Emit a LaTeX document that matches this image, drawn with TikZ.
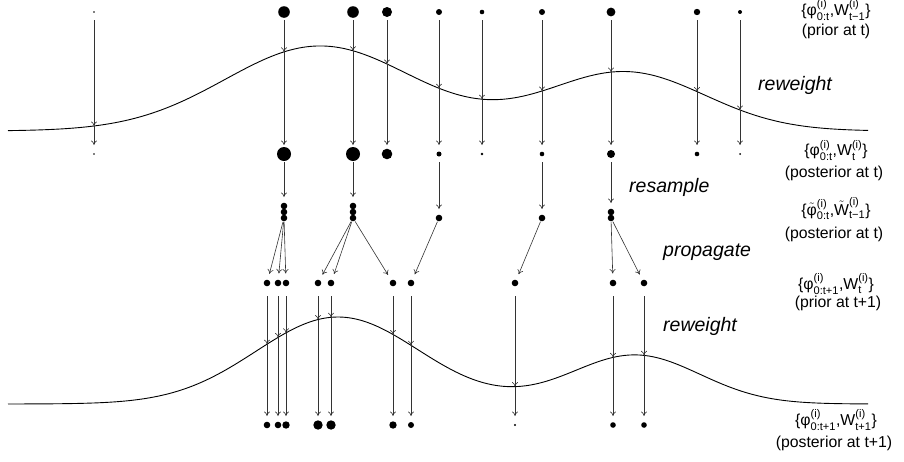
\documentclass[tikz,border=0pt]{standalone}
\usepackage{fontspec}
\usepackage{amsmath}
\setmainfont{Liberation Sans}
\usetikzlibrary{arrows.meta}

\begin{document}
\begin{tikzpicture}[x=1pt,y=-1pt,
  pt/.style={circle,fill=black,inner sep=0pt,minimum size=#1},
  link/.style={draw=black!80,line width=0.6pt,-{To[length=4.5pt,width=6pt]}},
  curve/.style={draw=black,line width=0.9pt},
  lbl/.style={font=\fontsize{15.8}{18}\selectfont,inner sep=0pt},
  act/.style={font=\fontsize{19.5}{22}\selectfont\itshape,inner sep=0pt,anchor=west},
  declare function={
    lkA(\x)=131-85*exp(-0.5*((\x-320)/95)^2)-59*exp(-0.5*((\x-625)/80)^2);
    lkB(\x)=404-87*exp(-0.5*((\x-338)/82)^2)-49*exp(-0.5*((\x-635)/65)^2);
  }]
\useasboundingbox (0,0) rectangle (904,461);

% likelihood curves
\draw[curve] plot[domain=8:868,samples=220,smooth] (\x,{lkA(\x)});
\draw[curve] plot[domain=8:868,samples=220,smooth] (\x,{lkB(\x)});

% prior particles at t, with the point where each meets the first curve
\foreach \n/\x/\d in {1/94/1.6,2/284/11.6,3/353/11.6,4/387/10,5/439/6,
                      6/482/4.6,7/542/6,8/611/8.8,9/697/6.4,10/740/4} {
  \node[pt=\d pt] (t\n) at (\x,12) {};
  \pgfmathsetmacro\cy{lkA(\x)}
  \coordinate (k\n) at (\x,\cy);
}

% posterior particles at t
\foreach \n/\x/\d in {1/94/1.6,2/284/14,3/353/14,4/387/10.6,5/439/5,
                      6/482/2.6,7/542/4.6,8/611/8,9/697/4.6,10/740/2}
  \node[pt=\d pt] (m\n) at (\x,154) {};

% reweighting arrows
\foreach \n in {1,...,10} {
  \draw[link,shorten <=8pt] (t\n.center) -- (k\n);
  \draw[link,shorten >=9pt] (k\n) -- (m\n.center);
}

% resampled particles
\foreach \k/\y in {1/206,2/212,3/218} {
  \node[pt=6.6pt] (ra\k) at (284,\y) {};
  \node[pt=6.6pt] (rb\k) at (353,\y) {};
}
\node[pt=6.6pt] (rc1) at (439,218) {};
\node[pt=6.6pt] (rd1) at (542,218) {};
\node[pt=6.6pt] (re1) at (611,212) {};
\node[pt=6.6pt] (re2) at (611,218) {};

% resampling arrows
\foreach \a/\b in {m2/ra1,m3/rb1,m5/rc1,m7/rd1,m8/re1}
  \draw[link,shorten <=8pt,shorten >=9pt] (\a.center) -- (\b.center);

% propagated particles (prior at t+1), with the point where each meets the second curve
\foreach \n/\x in {1/267,2/278,3/286,4/318,5/331,6/393,7/411,8/515,9/613,10/644} {
  \node[pt=6.6pt] (p\n) at (\x,283) {};
  \pgfmathsetmacro\cy{lkB(\x)}
  \coordinate (q\n) at (\x,\cy);
}

% propagation arrows
\foreach \a/\b in {ra3/p1,ra3/p2,ra3/p3,rb3/p4,rb3/p5,rb3/p6,rc1/p7,rd1/p8,re2/p9,re2/p10}
  \draw[link,shorten <=4pt,shorten >=9.5pt] (\a.center) -- (\b.center);

% posterior particles at t+1
\foreach \n/\x/\d in {1/267/6.6,2/278/6.6,3/286/7.4,4/318/9.4,5/331/9.4,
                      6/393/7.4,7/411/6,8/515/2.4,9/613/5.6,10/644/5.6}
  \node[pt=\d pt] (b\n) at (\x,425) {};

% second reweighting arrows
\foreach \n in {1,...,10} {
  \draw[link,shorten <=13pt] (p\n.center) -- (q\n);
  \draw[link,shorten >=9pt] (q\n) -- (b\n.center);
}

% step labels
\node[act] (s1) at (758,85) {reweight};
\node[act] (s2) at (629,187) {resample};
\node[act] (s3) at (663,252) {propagate};
\node[act] (s4) at (663,326) {reweight};

% particle set labels
\node[lbl] (f1) at (836,10)
  {$\text{\{}\text{φ}^{\text{(i)}}_{\text{0:t}}\text{,}\text{W}^{\text{(i)}}_{\text{t−1}}\text{\}}$};
\node[lbl] (c1) at (836,31) {(prior at t)};
\node[lbl] (f2) at (836,150.5)
  {$\text{\{}\text{φ}^{\text{(i)}}_{\text{0:t}}\text{,}\text{W}^{\text{(i)}}_{\text{t}}\text{\}}$};
\node[lbl] (c2) at (834,173) {(posterior at t)};
\node[lbl] (f3) at (836,208.5)
  {$\text{\{}\tilde{\text{φ}}^{\text{(i)}}_{\text{0:t}}\text{,}\tilde{\text{W}}^{\text{(i)}}_{\text{t−1}}\text{\}}$};
\node[lbl] (c3) at (834,234) {(posterior at t)};
\node[lbl] (f4) at (836,284)
  {$\text{\{}\text{φ}^{\text{(i)}}_{\text{0:t+1}}\text{,}\text{W}^{\text{(i)}}_{\text{t}}\text{\}}$};
\node[lbl] (c4) at (838,303) {(prior at t+1)};
\node[lbl] (f5) at (836,420)
  {$\text{\{}\text{φ}^{\text{(i)}}_{\text{0:t+1}}\text{,}\text{W}^{\text{(i)}}_{\text{t+1}}\text{\}}$};
\node[lbl] (c5) at (834,443) {(posterior at t+1)};
\end{tikzpicture}
\end{document}
